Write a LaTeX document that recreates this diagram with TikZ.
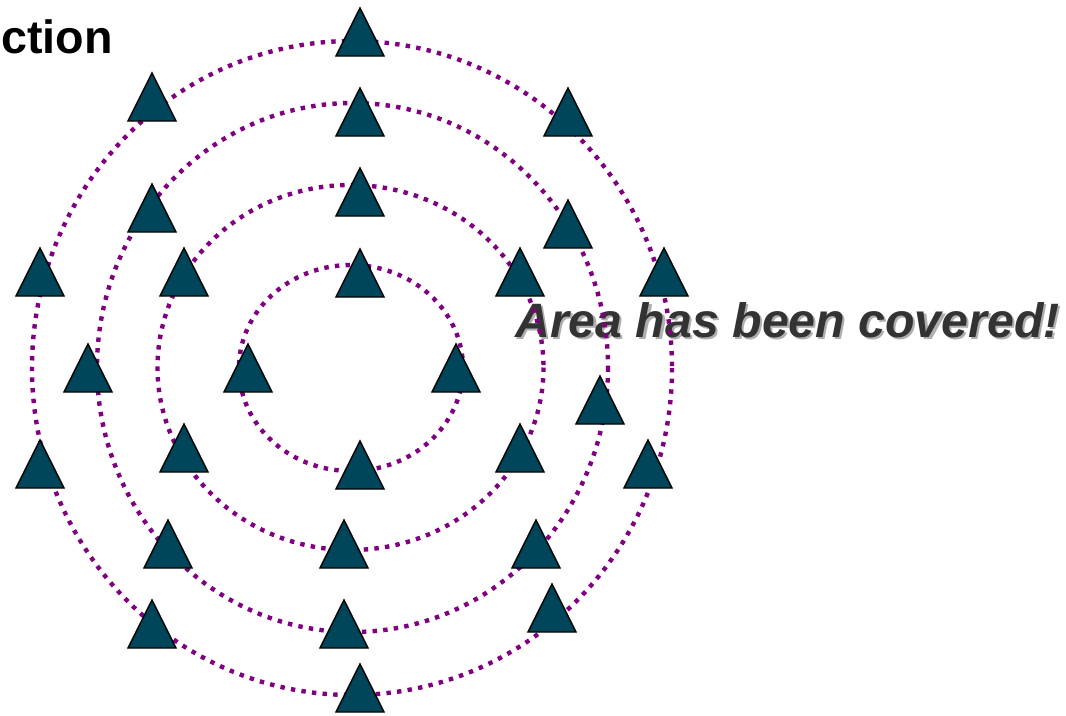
\documentclass[tikz,border=0pt]{standalone}
\usepackage{fontspec}
\setmainfont{Liberation Sans}
\definecolor{tricol}{RGB}{0,70,90}
\definecolor{ringcol}{RGB}{128,0,128}
\definecolor{txtcol}{RGB}{51,51,51}
\definecolor{shadowcol}{RGB}{175,175,175}
\newcommand{\shadowtext}[1]{\makebox[0pt][l]{\hspace{1.6pt}\raisebox{-1.8pt}{\textcolor{shadowcol}{#1}}}\textcolor{txtcol}{#1}}
\begin{document}
\begin{tikzpicture}[x=0.75pt,y=-0.75pt,
  ring/.style={draw=ringcol,line width=3.3pt,dash pattern=on 3.3pt off 4.7pt,line cap=butt},
  tri/.style={fill=tricol,draw=black,line width=1.1pt,line join=miter},
  title/.style={inner sep=0pt,font=\fontsize{35}{40}\selectfont\bfseries},
  banner/.style={inner sep=0pt,font=\fontsize{36.2}{42}\selectfont\bfseries\itshape}]
\useasboundingbox (0,0) rectangle (1066,715);
% title fragment
\node[title,anchor=base east] (title) at (113,53) {ction};
% banner text with shadow
\node[banner,anchor=base west] (banner) at (515,337) {\shadowtext{Area has been covered!}};
% dotted rings
\draw[ring] (352,368) ellipse [x radius=320, y radius=327];
\draw[ring] (352.5,367.5) ellipse [x radius=255.5, y radius=264.5];
\draw[ring] (350.5,367.5) ellipse [x radius=193, y radius=182.5];
\draw[ring] (351,368) ellipse [x radius=112, y radius=103];
% triangles (apex positions)
\foreach \ax/\ay in {360/8,152/73,568/88,40/248,664/248,40/440,648/440,152/600,552/584,360/664,
                     360/88,152/184,568/200,88/344,600/376,168/520,536/520,344/600,
                     360/168,184/248,520/248,184/424,520/424,344/520,
                     360/249,248/344,456/344,360/441}
  \filldraw[tri] (\ax,\ay) -- ++(24,48) -- ++(-48,0) -- cycle;
\end{tikzpicture}
\end{document}
